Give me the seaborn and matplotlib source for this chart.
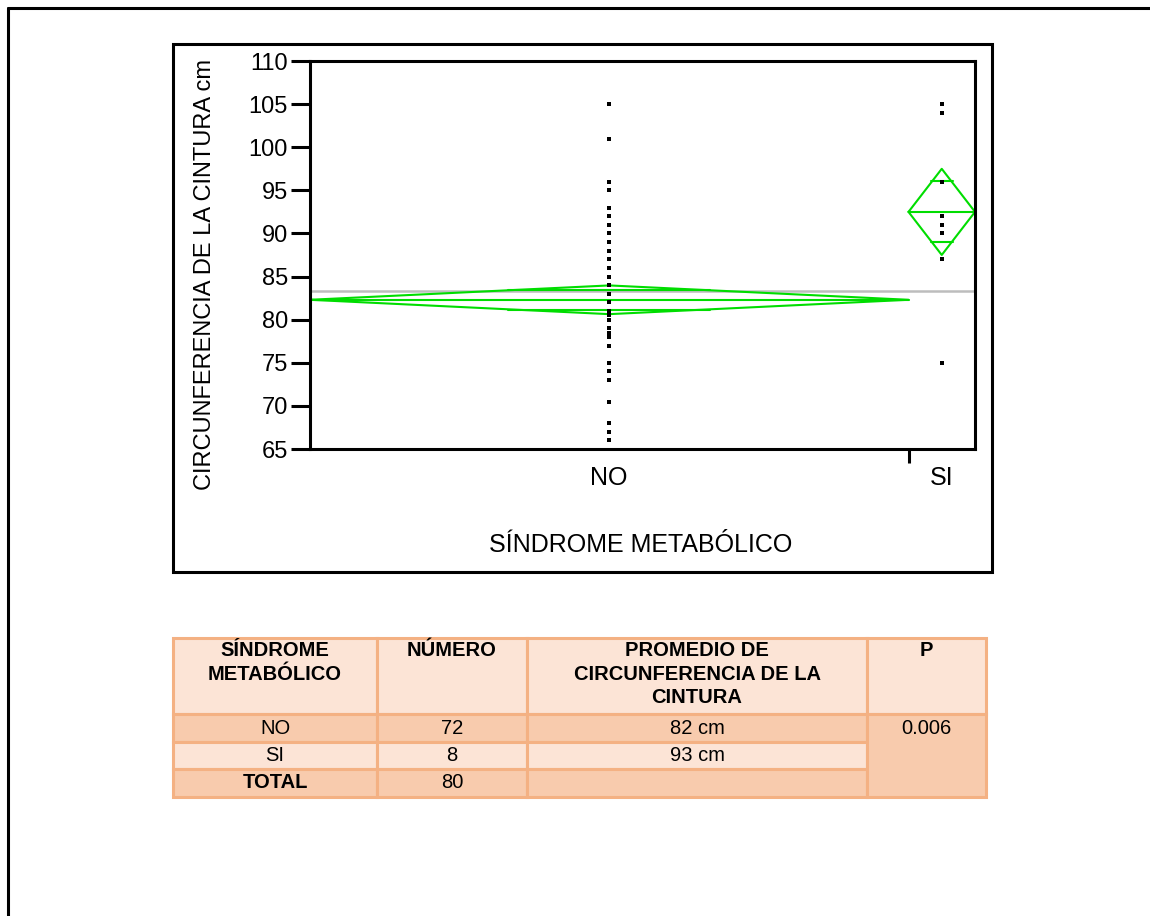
import numpy as np
import pandas as pd
import matplotlib
matplotlib.use("Agg")
import matplotlib.pyplot as plt
import seaborn as sns
from matplotlib.patches import Rectangle
from matplotlib.lines import Line2D

# Data (circunferencia de la cintura, cm)
no_values = [105, 101, 96, 95, 93, 92, 91, 90, 89, 88, 87, 86, 85, 84, 83, 82,
             81, 80.5, 80, 79, 78.5, 78, 77, 75, 74, 73, 70.5, 68, 67, 66,
             75, 77, 77, 78, 78, 78, 79, 79, 79, 80, 80, 80, 80, 81, 81, 81,
             81, 82, 82, 82, 82, 83, 83, 83, 84, 84, 85, 85, 86, 86, 87, 88,
             89, 90, 82, 81, 78.5, 80.5, 80.5, 79, 82, 83]
si_values = [105, 104, 96, 92, 91, 90, 87, 75]
groups = ["NO", "SI"]

# Table contents
table_header = ["SÍNDROME\nMETABÓLICO", "NÚMERO", "PROMEDIO DE\nCIRCUNFERENCIA DE LA\nCINTURA", "P"]
table_groups = ["NO", "SI", "TOTAL"]
table_counts = ["72", "8", "80"]
table_means = ["82 cm", "93 cm", ""]
table_p = "0.006"

df = pd.DataFrame({
    "grupo": ["NO"] * len(no_values) + ["SI"] * len(si_values),
    "cintura": no_values + si_values,
})

# x axis scaled by group size, like JMP oneway plot
counts = df.groupby("grupo").size().reindex(groups).values
edges = np.concatenate([[0], np.cumsum(counts)])
centers = (edges[:-1] + edges[1:]) / 2
df["xpos"] = df["grupo"].map(dict(zip(groups, centers)))

means = df.groupby("grupo")["cintura"].mean().reindex(groups).values
resid = df["cintura"] - df["grupo"].map(dict(zip(groups, means)))
pooled_sd = np.sqrt((resid ** 2).sum() / (len(df) - len(groups)))
t_crit = 1.9908
half = t_crit * pooled_sd / np.sqrt(counts)
grand_mean = df["cintura"].mean()

sns.set_style("white")
plt.rcParams["font.family"] = ["Liberation Sans", "DejaVu Sans"]
plt.rcParams["text.color"] = "black"
plt.rcParams["ytick.color"] = "black"
plt.rcParams["xtick.color"] = "black"

fig = plt.figure(figsize=(11.5, 9.16), dpi=100)
W, H = 1150, 916

# background layer for frames and table (pixel coords)
bg = fig.add_axes([0, 0, 1, 1])
bg.set_xlim(0, W)
bg.set_ylim(H, 0)
bg.axis("off")
bg.add_line(Line2D([8, W], [8, 8], color="black", lw=2.2))
bg.add_line(Line2D([8, 8], [8, H], color="black", lw=2.2))
bg.add_patch(Rectangle((173, 44), 819, 528, fill=False, ec="black", lw=2.2))

ax = fig.add_axes([310 / W, 1 - 449 / H, (975 - 310) / W, (449 - 61) / H])
ax.axhline(grand_mean, color="#bdbdbd", lw=1.8, zorder=1)

green = "#00dd00"
for i in range(len(groups)):
    x0, x1, xc, m, h = edges[i], edges[i + 1], centers[i], means[i], half[i]
    ax.plot([x0, xc, x1, xc, x0], [m, m + h, m, m - h, m], color=green, lw=1.5, zorder=2)
    ax.plot([x0, x1], [m, m], color=green, lw=1.5, zorder=2)
    ov = h / np.sqrt(2)
    w = (x1 - x0) / 2 * (1 - 1 / np.sqrt(2)) * 1.15
    for y in (m + ov, m - ov):
        ax.plot([xc - w, xc + w], [y, y], color=green, lw=1.5, zorder=2)

sns.scatterplot(data=df, x="xpos", y="cintura", ax=ax, marker="s", s=11,
                color="black", linewidth=0, zorder=3)

ax.set_xlim(0, edges[-1])
ax.set_ylim(65, 110)
ax.set_yticks(np.arange(65, 111, 5))
ax.set_xticks([edges[1]])
ax.set_xticklabels([""])
ax.tick_params(axis="y", length=14, width=2.2, labelsize=17, pad=2, direction="out", left=True)
ax.tick_params(axis="x", length=10, width=2.2, direction="out", bottom=True)
for s in ax.spines.values():
    s.set_linewidth(2.2)
    s.set_color("black")
ax.set_xlabel("")
ax.set_ylabel("")

for g, c in zip(groups, centers):
    fig.text((310 + c / edges[-1] * 665) / W, 1 - 478 / H, g, ha="center", va="center", fontsize=18)

fig.text(205 / W, 1 - 275 / H, "CIRCUNFERENCIA DE LA CINTURA cm", rotation=90,
         ha="center", va="center", fontsize=17)
fig.text(641 / W, 1 - 545 / H, "SÍNDROME METABÓLICO", ha="center", va="center", fontsize=18)

# table
cols = [173, 377, 527, 867, 986]
rows = [638, 714, 742, 769, 797]
light, dark, edge = "#fce4d6", "#f8cbad", "#f4b183"
row_colors = [dark, light, dark]
for j in range(4):
    bg.add_patch(Rectangle((cols[j], rows[0]), cols[j + 1] - cols[j], rows[1] - rows[0], fc=light, ec=edge, lw=2.2))
for r in range(3):
    for j in range(3):
        bg.add_patch(Rectangle((cols[j], rows[r + 1]), cols[j + 1] - cols[j], rows[r + 2] - rows[r + 1],
                               fc=row_colors[r], ec=edge, lw=2.2))
bg.add_patch(Rectangle((cols[3], rows[1]), cols[4] - cols[3], rows[4] - rows[1], fc=dark, ec=edge, lw=2.2))

fs = 14.5
for j, txt in enumerate(table_header):
    bg.text((cols[j] + cols[j + 1]) / 2, rows[0] + 3, txt, ha="center", va="top", fontsize=fs,
            fontweight="bold", linespacing=1.3)
for r in range(3):
    yc = (rows[r + 1] + rows[r + 2]) / 2
    bg.text((cols[0] + cols[1]) / 2, yc, table_groups[r], ha="center", va="center", fontsize=fs,
            fontweight="bold" if table_groups[r] == "TOTAL" else "normal")
    bg.text((cols[1] + cols[2]) / 2, yc, table_counts[r], ha="center", va="center", fontsize=fs)
    bg.text((cols[2] + cols[3]) / 2, yc, table_means[r], ha="center", va="center", fontsize=fs)
bg.text((cols[3] + cols[4]) / 2, (rows[1] + rows[2]) / 2, table_p, ha="center", va="center", fontsize=fs)

fig.savefig("out.png", dpi=100)
